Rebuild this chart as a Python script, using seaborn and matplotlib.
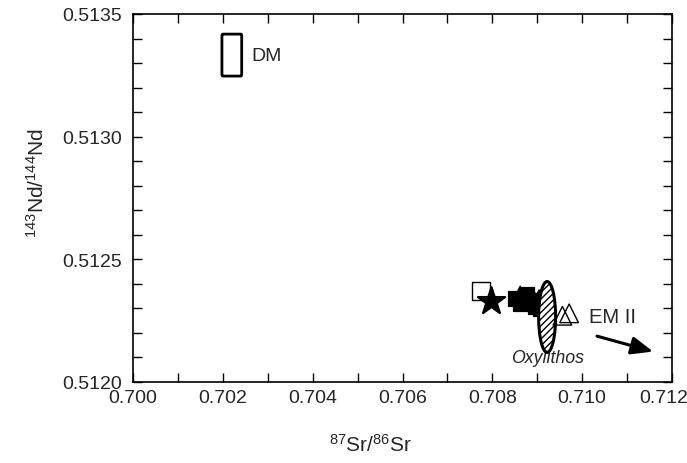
import matplotlib
matplotlib.use("Agg")
import matplotlib.pyplot as plt
import matplotlib.transforms as mtransforms
import seaborn as sns
import pandas as pd
from matplotlib.patches import Ellipse, FancyBboxPatch
from matplotlib.ticker import MultipleLocator

# ---- data ----
open_sq_x = [0.70774]
open_sq_y = [0.51237]
star_x = [0.70797]
star_y = [0.51233]
filled_sq_x = [0.70851, 0.70864, 0.70882, 0.70876, 0.70896, 0.70907, 0.70912]
filled_sq_y = [0.51234, 0.51232, 0.51233, 0.512355, 0.51231, 0.51230, 0.51232]
filled_tri_x = [0.70862, 0.70890, 0.70904]
filled_tri_y = [0.51236, 0.51235, 0.512345]
open_tri_x = [0.70956, 0.70971]
open_tri_y = [0.51227, 0.51228]

dm_x = [0.70198, 0.70242]
dm_y = [0.513247, 0.513418]
oxy_center = [0.70922, 0.512265]
oxy_size = [0.000378, 0.000289]
em_start = [0.71033, 0.512187]
em_end = [0.71158, 0.512124]

x_ticks = [0.700, 0.702, 0.704, 0.706, 0.708, 0.710, 0.712]
y_ticks = [0.5120, 0.5125, 0.5130, 0.5135]

sns.set_theme(style="ticks")
plt.rcParams['font.family'] = ['Liberation Sans', 'DejaVu Sans']
plt.rcParams['mathtext.fontset'] = 'custom'
plt.rcParams['mathtext.rm'] = 'Liberation Sans'
plt.rcParams['mathtext.it'] = 'Liberation Sans:italic'

fig = plt.figure(figsize=(6.87, 4.64), dpi=100)
ax = fig.add_axes([133/687, 1-383/464, (672-133)/687, (383-15)/464])

df = pd.concat([
    pd.DataFrame({"x": filled_sq_x, "y": filled_sq_y, "g": "fsq"}),
    pd.DataFrame({"x": filled_tri_x, "y": filled_tri_y, "g": "ftri"}),
], ignore_index=True)
sns.scatterplot(data=df, x="x", y="y", style="g", markers={"fsq": "s", "ftri": "^"},
                color="black", edgecolor="black", s=120, legend=False, ax=ax, zorder=3)
sns.scatterplot(x=open_sq_x, y=open_sq_y, marker="s", s=150, facecolor="white",
                edgecolor="black", linewidth=1.0, ax=ax, zorder=3)
sns.scatterplot(x=star_x, y=star_y, marker="*", s=420, color="black",
                edgecolor="black", ax=ax, zorder=4)

ell = Ellipse(oxy_center, oxy_size[0], oxy_size[1], facecolor="white",
              edgecolor="black", hatch="/////", linewidth=2.2, zorder=5)
ax.add_patch(ell)

sns.scatterplot(x=open_tri_x, y=open_tri_y, marker="^", s=180, facecolor="none",
                edgecolor="black", linewidth=1.0, ax=ax, zorder=6)

dm = FancyBboxPatch((dm_x[0], dm_y[0]), dm_x[1]-dm_x[0], dm_y[1]-dm_y[0],
                    boxstyle="round,pad=0,rounding_size=0.00002",
                    mutation_aspect=0.4, facecolor="none", edgecolor="black",
                    linewidth=2.0, zorder=3)
ax.add_patch(dm)
ax.text(0.70264, 0.51333, "DM", fontsize=14, va="center", ha="left")
ax.text(oxy_center[0], 0.512100, "Oxylithos", fontsize=12.8, style="italic",
        va="center", ha="center")
ax.text(0.71016, 0.512265, "EM II", fontsize=14.5, va="center", ha="left")
ax.annotate("", xy=em_end, xytext=em_start,
            arrowprops=dict(arrowstyle="-|>,head_length=1.1,head_width=0.45",
                            color="black", lw=2.2, shrinkA=0, shrinkB=0))

ax.set_xlim(0.700, 0.712)
ax.set_ylim(0.5120, 0.5135)
ax.set_xticks(x_ticks)
ax.set_yticks(y_ticks)
ax.set_xticklabels([f"{v:.3f}" for v in x_ticks])
ax.set_yticklabels([f"{v:.4f}" for v in y_ticks])
ax.xaxis.set_minor_locator(MultipleLocator(0.001))
ax.yaxis.set_minor_locator(MultipleLocator(0.0001))
ax.tick_params(which="both", direction="in", top=True, right=True,
               length=6.5, width=1.0, labelsize=14, color="black", pad=5)
ax.tick_params(axis="y", pad=8)
for sp in ax.spines.values():
    sp.set_linewidth(1.2)
    sp.set_color("black")

# keep the last x tick label inside the figure
last = ax.get_xticklabels()[-1]
last.set_transform(last.get_transform() +
                   mtransforms.ScaledTranslation(-6/72, 0, fig.dpi_scale_trans))

ax.set_xlabel(r"$^{87}$Sr/$^{86}$Sr", fontsize=15)
ax.set_ylabel(r"$^{143}$Nd/$^{144}$Nd", fontsize=15)
ax.xaxis.set_label_coords((371-133)/539, -(434-383)/368)
ax.yaxis.set_label_coords(-(133-48)/539, (383-183)/368)

fig.savefig("out.png", dpi=100)
